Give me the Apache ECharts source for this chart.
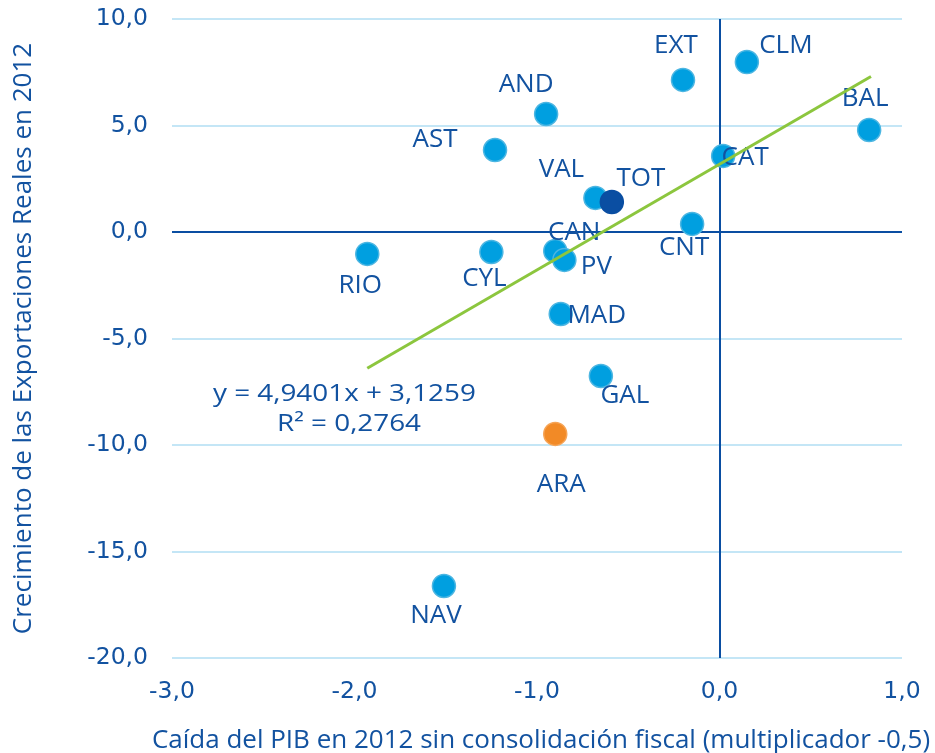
<!DOCTYPE html>
<html>
<head>
    <meta charset="utf-8">
    <title>Exportaciones vs PIB</title>
    <script src="https://cdn.jsdelivr.net/npm/echarts@6/dist/echarts.min.js"></script>
</head>
<body style="margin:0;background:#fff;">
    <div id="main" style="width: 935px;height:753px;"></div>
    <script type="text/javascript">
        // datos
        var regiones = ['RIO', 'CYL', 'AST', 'NAV', 'AND', 'CAN', 'ARA', 'MAD', 'PV', 'VAL', 'GAL', 'TOT', 'EXT', 'CNT', 'CAT', 'CLM', 'BAL'];
        var caidaPIB = [-1.93, -1.25, -1.23, -1.51, -0.95, -0.90, -0.90, -0.87, -0.85, -0.68, -0.65, -0.59, -0.20, -0.15, 0.02, 0.15, 0.82];
        var exportaciones = [-1.03, -0.94, 3.85, -16.62, 5.54, -0.89, -9.48, -3.85, -1.31, 1.60, -6.76, 1.41, 7.14, 0.38, 3.57, 7.98, 4.79];
        // recta de tendencia (extremos leidos)
        var tendenciaX = [-1.93, 0.83];
        var tendenciaY = [-6.40, 7.30];
        var ecuacion = ['y = 4,9401x + 3,1259', 'R² = 0,2764'];

        var azul = '#1252a0';
        var colores = { TOT: '#0a4ea2', ARA: '#f28a26' };
        var bordes = { TOT: '#0a4ea2', ARA: '#f6a456' };
        // desplazamiento de cada etiqueta respecto al punto
        var offsets = {
            RIO: [-7, 32], CYL: [-7, 27], AST: [-60, -10], NAV: [-8, 30], AND: [-20, -29],
            CAN: [19, -18], ARA: [6, 51], MAD: [36, 2], PV: [32, 7], VAL: [-34, -28],
            GAL: [24, 20], TOT: [29, -23], EXT: [-7, -34], CNT: [-8, 24], CAT: [22, 2],
            CLM: [39, -16], BAL: [-4, -31]
        };

        var puntos = [];
        for (var i = 0; i < regiones.length; i++) {
            var r = regiones[i];
            puntos.push({
                name: r,
                value: [caidaPIB[i], exportaciones[i]],
                itemStyle: {
                    color: colores[r] || '#009fe0',
                    borderColor: bordes[r] || '#4cb6e2',
                    borderWidth: 1.5,
                    opacity: 1
                },
                label: { offset: offsets[r] },
                z: r == 'TOT' ? 5 : 3
            });
        }

        var fmt = function (v) { return v.toFixed(1).replace('.', ','); };

        var myChart = echarts.init(document.getElementById('main'));
        var option = {
            animation: false,
            grid: { left: 172, right: 33, top: 19, bottom: 95, outerBoundsMode: 'none', containLabel: false },
            xAxis: {
                type: 'value', min: -3, max: 1, interval: 1,
                name: 'Caída del PIB en 2012 sin consolidación fiscal (multiplicador -0,5)',
                nameLocation: 'middle', nameGap: 70,
                nameTextStyle: { color: azul, fontFamily: 'Open Sans', fontSize: 26, padding: [0, 0, 0, 8] },
                axisLine: { show: false }, axisTick: { show: false },
                splitLine: { show: false },
                axisLabel: { color: azul, fontFamily: 'DejaVu Sans', fontSize: 23.5, margin: 22, formatter: fmt }
            },
            yAxis: {
                type: 'value', min: -20, max: 10, interval: 5,
                name: 'Crecimiento de las Exportaciones Reales en 2012',
                nameLocation: 'middle', nameGap: 135,
                nameTextStyle: { color: azul, fontFamily: 'Open Sans', fontSize: 26 },
                axisLine: { show: false }, axisTick: { show: false },
                splitLine: { show: true, lineStyle: { color: '#c4e6f6', width: 2 } },
                axisLabel: { color: azul, fontFamily: 'DejaVu Sans', fontSize: 23.5, margin: 24, formatter: fmt }
            },
            series: [
                {
                    type: 'scatter',
                    symbolSize: 23,
                    data: puntos,
                    itemStyle: { opacity: 1 },
                    label: {
                        show: true, position: 'inside',
                        formatter: '{b}', color: azul,
                        textBorderWidth: 0, textBorderColor: 'transparent',
                        fontFamily: 'Open Sans', fontSize: 26
                    },
                    markLine: {
                        silent: true, symbol: 'none', label: { show: false },
                        lineStyle: { color: '#0a4ea2', width: 2, type: 'solid', opacity: 1 },
                        data: [{ xAxis: 0 }, { yAxis: 0 }],
                        z: 1
                    },
                    z: 3
                },
                {
                    type: 'line',
                    data: [[tendenciaX[0], tendenciaY[0]], [tendenciaX[1], tendenciaY[1]]],
                    showSymbol: false,
                    lineStyle: { color: '#8cc63e', width: 3 },
                    z: 4
                }
            ],
            graphic: [
                {
                    type: 'text', x: 213, y: 382, scaleX: 1.16,
                    style: { text: ecuacion[0], fill: azul, font: '24px "Open Sans"' }
                },
                {
                    type: 'text', x: 277, y: 412, scaleX: 1.16,
                    style: { text: ecuacion[1], fill: azul, font: '24px "Open Sans"' }
                }
            ]
        };
        myChart.setOption(option);
    </script>
</body>
</html>
